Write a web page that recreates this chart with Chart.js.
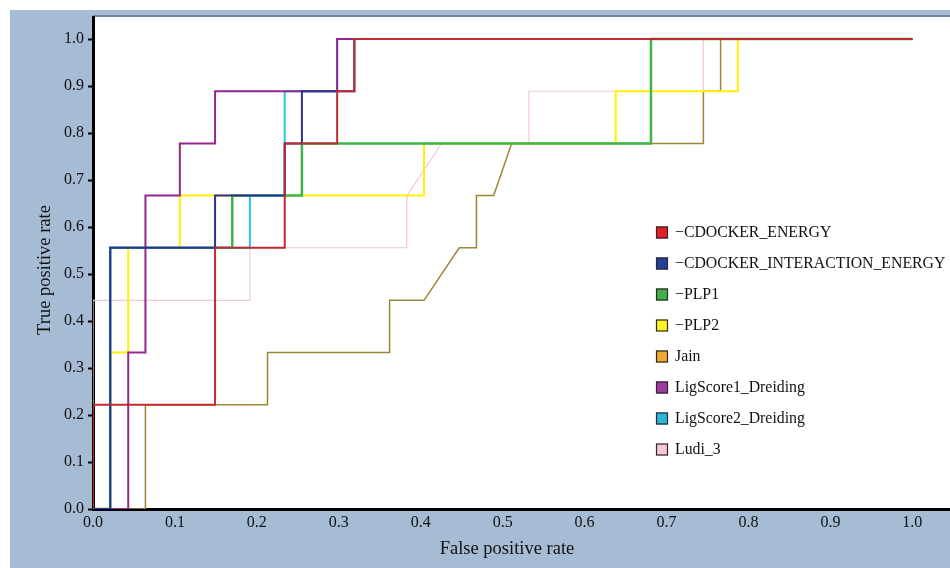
<!DOCTYPE html>
<html><head><meta charset="utf-8">
<script src="https://cdn.jsdelivr.net/npm/chart.js@4.4.1/dist/chart.umd.min.js"></script>
<style>html,body{margin:0;padding:0;background:#fff;} #wrap{width:950px;height:568px;position:relative;}</style>
</head><body><div id="wrap"><canvas id="c" width="950" height="568"></canvas></div>
<script>
// ---- data ----
const seriesNames = ["\u2212CDOCKER_ENERGY", "\u2212CDOCKER_INTERACTION_ENERGY", "\u2212PLP1", "\u2212PLP2", "Jain", "LigScore1_Dreiding", "LigScore2_Dreiding", "Ludi_3"];
const xTickValues = [0.0, 0.1, 0.2, 0.3, 0.4, 0.5, 0.6, 0.7, 0.8, 0.9, 1.0];
const yTickValues = [0.0, 0.1, 0.2, 0.3, 0.4, 0.5, 0.6, 0.7, 0.8, 0.9, 1.0];

const cdockerEnergyFpr = [0, 0, 0.149, 0.149, 0.234, 0.234, 0.298, 0.298, 0.319, 0.319, 1.0];
const cdockerEnergyTpr = [0, 0.222, 0.222, 0.556, 0.556, 0.778, 0.778, 0.889, 0.889, 1.0, 1.0];

const cdockerInterFpr = [0, 0.021, 0.021, 0.149, 0.149, 0.234, 0.234, 0.255, 0.255, 0.319, 0.319, 1.0];
const cdockerInterTpr = [0, 0, 0.556, 0.556, 0.667, 0.667, 0.778, 0.778, 0.889, 0.889, 1.0, 1.0];

const plp1Fpr = [0, 0.021, 0.021, 0.170, 0.170, 0.255, 0.255, 0.681, 0.681, 1.0];
const plp1Tpr = [0, 0, 0.556, 0.556, 0.667, 0.667, 0.778, 0.778, 1.0, 1.0];

const plp2Fpr = [0, 0.021, 0.021, 0.043, 0.043, 0.106, 0.106, 0.404, 0.404, 0.638, 0.638, 0.787, 0.787, 1.0];
const plp2Tpr = [0, 0, 0.333, 0.333, 0.556, 0.556, 0.667, 0.667, 0.778, 0.778, 0.889, 0.889, 1.0, 1.0];

const jainFpr = [0, 0.064, 0.064, 0.213, 0.213, 0.362, 0.362, 0.404, 0.447, 0.468, 0.468, 0.489, 0.511, 0.745, 0.745, 0.766, 0.766, 1.0];
const jainTpr = [0, 0, 0.222, 0.222, 0.333, 0.333, 0.444, 0.444, 0.556, 0.556, 0.667, 0.667, 0.778, 0.778, 0.889, 0.889, 1.0, 1.0];

const ligScore1Fpr = [0, 0.043, 0.043, 0.064, 0.064, 0.106, 0.106, 0.149, 0.149, 0.298, 0.298, 1.0];
const ligScore1Tpr = [0, 0, 0.333, 0.333, 0.667, 0.667, 0.778, 0.778, 0.889, 0.889, 1.0, 1.0];

const ligScore2Fpr = [0, 0.021, 0.021, 0.1915, 0.1915, 0.234, 0.234, 0.298, 0.298, 1.0];
const ligScore2Tpr = [0, 0, 0.556, 0.556, 0.667, 0.667, 0.889, 0.889, 1.0, 1.0];

const ludi3Fpr = [0, 0, 0.1915, 0.1915, 0.383, 0.383, 0.4255, 0.532, 0.532, 0.745, 0.745, 1.0];
const ludi3Tpr = [0, 0.444, 0.444, 0.556, 0.556, 0.667, 0.778, 0.778, 0.889, 0.889, 1.0, 1.0];

// ---- styles ----
const lineColors = ["#bf2a30", "#2e3192", "#3cb44b", "#fff200", "#9c8636", "#93278f", "#29c5e6", "#f4c8d9"];
const legendColors = ["#e21d24", "#1f3f9a", "#40b04a", "#fff21d", "#f0a832", "#9c3a9e", "#2cb5dd", "#f7c6db"];
const lineWidths = [2, 2, 2.5, 2, 1.5, 2, 2, 1.2];
const drawOrder = [0, 1, 4, 5, 6, 2, 3, 7];

const fprSets = [cdockerEnergyFpr, cdockerInterFpr, plp1Fpr, plp2Fpr, jainFpr, ligScore1Fpr, ligScore2Fpr, ludi3Fpr];
const tprSets = [cdockerEnergyTpr, cdockerInterTpr, plp1Tpr, plp2Tpr, jainTpr, ligScore1Tpr, ligScore2Tpr, ludi3Tpr];

const datasets = seriesNames.map((name, i) => ({
  label: name,
  data: fprSets[i].map((x, j) => ({x: x, y: tprSets[i][j]})),
  showLine: true,
  borderColor: lineColors[i],
  backgroundColor: lineColors[i],
  borderWidth: lineWidths[i],
  pointRadius: 0,
  fill: false,
  tension: 0,
  order: drawOrder[i]
}));

const SERIF = "'Liberation Serif', 'DejaVu Serif', serif";

const decorPlugin = {
  id: 'decor',
  beforeDraw(chart) {
    const ctx = chart.ctx, a = chart.chartArea;
    ctx.save();
    ctx.fillStyle = '#ffffff';
    ctx.fillRect(0, 0, chart.width, chart.height);
    ctx.fillStyle = '#a6bbd4';
    ctx.fillRect(10, 10, chart.width - 10, chart.height - 10);
    ctx.fillStyle = '#ffffff';
    ctx.fillRect(a.left, a.top, a.right - a.left, a.bottom - a.top);
    ctx.strokeStyle = '#72829a';
    ctx.lineWidth = 2;
    ctx.beginPath();
    ctx.moveTo(a.left, a.top - 1);
    ctx.lineTo(a.right, a.top - 1);
    ctx.stroke();
    ctx.restore();
  },
  afterDraw(chart) {
    const ctx = chart.ctx;
    ctx.save();
    // axis titles
    ctx.fillStyle = '#111';
    ctx.font = "18.5px " + SERIF;
    ctx.textAlign = 'center';
    ctx.textBaseline = 'middle';
    ctx.fillText('False positive rate', 507, 549);
    ctx.translate(45, 270);
    ctx.rotate(-Math.PI / 2);
    ctx.fillText('True positive rate', 0, 0);
    ctx.restore();
    // legend
    ctx.save();
    ctx.font = "15.8px " + SERIF;
    ctx.textAlign = 'left';
    ctx.textBaseline = 'middle';
    const x0 = 656, y0 = 232.5, step = 31;
    seriesNames.forEach((name, i) => {
      const y = y0 + i * step;
      ctx.fillStyle = legendColors[i];
      ctx.fillRect(x0, y - 6, 12, 12);
      ctx.strokeStyle = '#2a2a2a';
      ctx.lineWidth = 1.2;
      ctx.strokeRect(x0 + 0.5, y - 5.5, 11, 11);
      ctx.fillStyle = '#111';
      ctx.fillText(name, x0 + 19, y);
    });
    ctx.restore();
  }
};

new Chart(document.getElementById('c'), {
  type: 'scatter',
  data: { datasets: datasets },
  options: {
    responsive: false,
    animation: false,
    layout: { padding: { top: 17, left: 0, right: 0, bottom: 0 } },
    plugins: { legend: { display: false }, tooltip: { enabled: false } },
    scales: {
      x: {
        type: 'linear', min: 0, max: 1.046, z: 1,
        afterBuildTicks: s => { s.ticks = xTickValues.map(v => ({value: v})); },
        afterFit: s => { s.height = 59; },
        ticks: { font: { family: SERIF, size: 16 }, color: '#111', padding: 2, maxRotation: 0,
                 callback: v => Number(v).toFixed(1) },
        grid: { drawOnChartArea: false, drawTicks: true, tickLength: 2, tickColor: '#000', tickWidth: 2 },
        border: { color: '#000', width: 3 }
      },
      y: {
        type: 'linear', min: 0, max: 1.047, z: 1,
        afterBuildTicks: s => { s.ticks = yTickValues.map(v => ({value: v})); },
        afterFit: s => { s.width = 93; },
        ticks: { font: { family: SERIF, size: 16 }, color: '#111', padding: 4,
                 callback: v => Number(v).toFixed(1) },
        grid: { drawOnChartArea: false, drawTicks: true, tickLength: 5, tickColor: '#000', tickWidth: 2 },
        border: { color: '#000', width: 3 }
      }
    }
  },
  plugins: [decorPlugin]
});
</script>
</body></html>
